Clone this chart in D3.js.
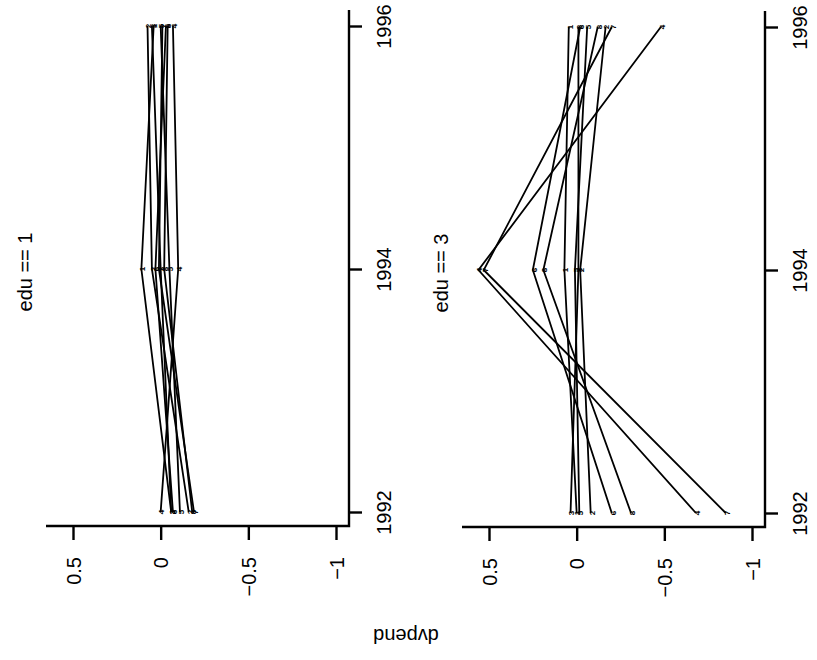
<!DOCTYPE html>
<html>
<head>
<meta charset="utf-8">
<script src="https://cdn.jsdelivr.net/npm/d3@7"></script>
<style>
  body { margin: 0; background: #fff; }
  text { font-family: "Liberation Sans", Arial, Helvetica, sans-serif; fill: #000; }
</style>
</head>
<body>
<svg id="chart" width="817" height="660"></svg>
<script>
// Survey waves and series
const years = [1992, 1994, 1996];
const yearTicks = [1992, 1994, 1996];
const valueTicks = [0.5, 0, -0.5, -1];
const seriesIds = ["1", "2", "3", "4", "5", "6", "7", "8"];
const panelTitles = ["edu == 1", "edu == 3"];
const axisTitle = "dvpend";

// dvpend by series (one row per series, one value per wave)
const edu1Values = [
  [-0.06,  0.11,  0.04],
  [-0.16,  0.05,  0.075],
  [-0.06,  0.00,  0.05],
  [ 0.00, -0.10, -0.07],
  [-0.11, -0.05,  0.00],
  [-0.07,  0.03, -0.03],
  [-0.19,  0.01, -0.01],
  [-0.18, -0.02, -0.04]
];
const edu3Values = [
  [ 0.00,  0.07,  0.045],
  [-0.08, -0.02, -0.165],
  [ 0.035, -0.01, -0.01],
  [-0.68,  0.56, -0.48],
  [-0.015, 0.01, -0.06],
  [-0.20,  0.25, -0.02],
  [-0.85,  0.53, -0.20],
  [-0.31,  0.19, -0.12]
];

const svg = d3.select("#chart");
const fontSize = 20;

// The figure is laid out turned a quarter turn: waves run upward,
// dvpend runs left (high) to right (low).
const panels = [
  { title: panelTitles[0], values: edu1Values, dx: 0,   dy: 0 },
  { title: panelTitles[1], values: edu3Values, dx: 416, dy: 1 }
];

panels.forEach(p => {
  const g = svg.append("g").attr("transform", `translate(${p.dx},${p.dy})`);

  const v = d3.scaleLinear().domain([0.5, -1]).range([73, 336]);
  const t = d3.scaleLinear().domain([1992, 1996]).range([512, 26]);

  const left = 46, right = 349, top = 10, bottom = 526;

  // axis frame lines (L shape)
  g.append("path")
    .attr("d", `M${left},${bottom}H${right}V${top}`)
    .attr("fill", "none")
    .attr("stroke", "#000")
    .attr("stroke-width", 2.4);

  // dvpend axis along the bottom
  const vAxis = g.append("g")
    .attr("transform", `translate(0,${bottom})`)
    .call(d3.axisBottom(v)
      .tickValues(valueTicks)
      .tickSize(14)
      .tickFormat(d => d === 0 ? "0" : d3.format("")(d).replace("-", "\u2212")));
  vAxis.select(".domain").remove();
  vAxis.selectAll(".tick line").attr("stroke", "#000").attr("stroke-width", 2.4);
  vAxis.selectAll(".tick text")
    .attr("transform", "rotate(-90)")
    .attr("x", -31)
    .attr("y", 0)
    .attr("dy", "0.35em")
    .attr("text-anchor", "end")
    .style("font-size", fontSize + "px")
    .style("font-family", "'Liberation Sans', Arial, sans-serif");

  // wave axis on the right
  const tAxis = g.append("g")
    .attr("transform", `translate(${right},0)`)
    .call(d3.axisRight(t)
      .tickValues(yearTicks)
      .tickSize(13)
      .tickFormat(d3.format("d")));
  tAxis.select(".domain").remove();
  tAxis.selectAll(".tick line").attr("stroke", "#000").attr("stroke-width", 2.4);
  tAxis.selectAll(".tick text")
    .attr("transform", "rotate(-90)")
    .attr("x", 0)
    .attr("y", 42)
    .attr("dy", 0)
    .attr("text-anchor", "middle")
    .style("font-size", fontSize + "px")
    .style("font-family", "'Liberation Sans', Arial, sans-serif");

  // panel title
  g.append("text")
    .attr("transform", `translate(32,272) rotate(-90)`)
    .attr("text-anchor", "middle")
    .style("font-size", fontSize + "px")
    .text(p.title);

  // series lines
  const line = d3.line()
    .x(d => v(d.value))
    .y(d => t(d.year));

  const series = p.values.map((vals, i) => ({
    id: seriesIds[i],
    points: vals.map((val, j) => ({ year: years[j], value: val }))
  }));

  g.append("g")
    .selectAll("path")
    .data(series)
    .join("path")
    .attr("d", d => line(d.points))
    .attr("fill", "none")
    .attr("stroke", "#000")
    .attr("stroke-width", 1.8)
    .attr("stroke-linejoin", "miter");

  // series number markers at each wave
  g.append("g")
    .selectAll("g")
    .data(series)
    .join("g")
    .selectAll("text")
    .data(d => d.points.map(pt => ({ id: d.id, ...pt })))
    .join("text")
    .attr("transform", d => `translate(${v(d.value) + 1},${t(d.year)}) rotate(-90)`)
    .attr("text-anchor", "middle")
    .attr("dy", "0.35em")
    .style("font-size", "8px")
    .style("font-weight", "bold")
    .text(d => d.id);
});

// shared vertical axis title
svg.append("text")
  .attr("transform", "translate(406,629) rotate(180)")
  .attr("text-anchor", "middle")
  .style("font-size", fontSize + "px")
  .text(axisTitle);
</script>
</body>
</html>
